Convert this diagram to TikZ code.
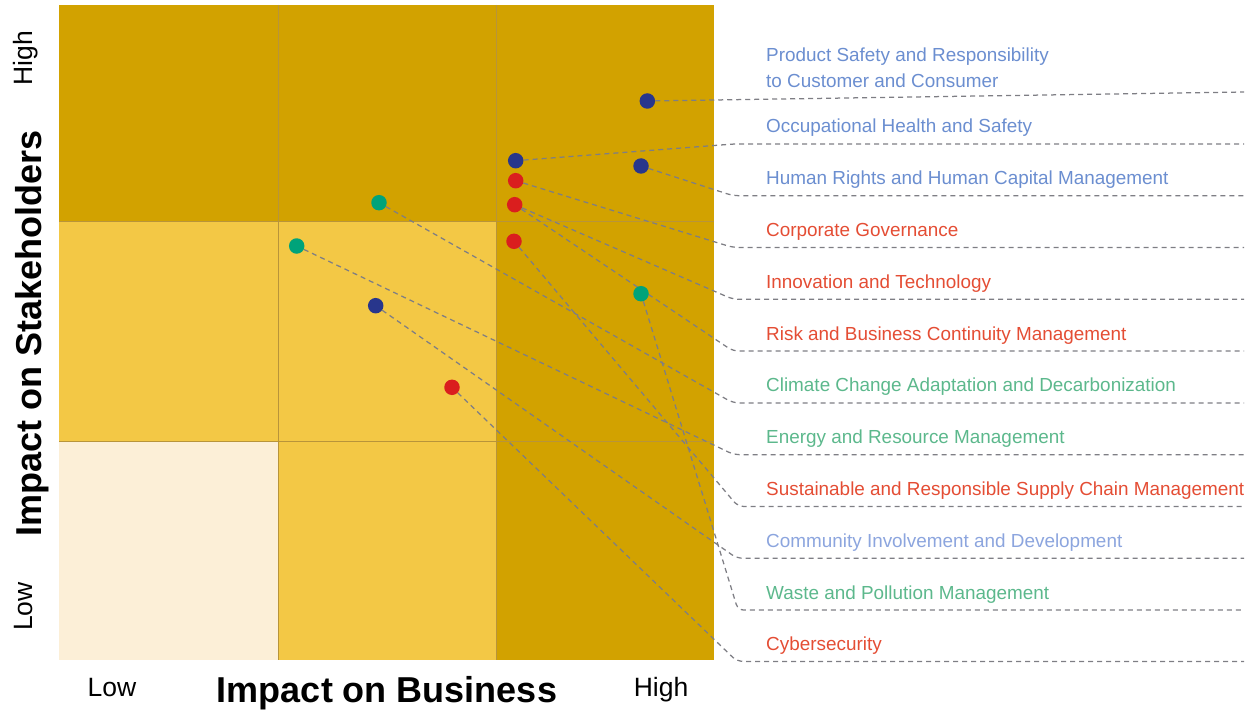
\documentclass[tikz,border=0pt]{standalone}
\usepackage{fontspec}
\setmainfont{Liberation Sans}
\pgfdeclarelayer{bg}
\pgfdeclarelayer{lines}
\pgfsetlayers{bg,lines,main}
\definecolor{cdark}{HTML}{D2A200}
\definecolor{cmid}{HTML}{F3C845}
\definecolor{clight}{HTML}{FCEFD7}
\definecolor{cgrid}{HTML}{B8943A}
\definecolor{dnavy}{HTML}{28368C}
\definecolor{dred}{HTML}{DA1E1E}
\definecolor{dgreen}{HTML}{00A37A}
\definecolor{tblue}{HTML}{6B8ED0}
\definecolor{tlblue}{HTML}{8CA5DE}
\definecolor{tred}{HTML}{E44D34}
\definecolor{tgreen}{HTML}{5CB88C}
\definecolor{cconn}{HTML}{7E7E84}
\tikzset{
  dotbase/.style={circle,inner sep=0pt,minimum size=15.5pt},
  dotB/.style={dotbase,fill=dnavy},
  dotR/.style={dotbase,fill=dred},
  dotG/.style={dotbase,fill=dgreen},
  conn/.style={draw=cconn,line width=1.25pt,dash pattern=on 5pt off 4pt,rounded corners=6pt},
  gridline/.style={draw=cgrid,line width=1pt},
  lbl/.style={anchor=base west,inner sep=0pt,font=\fontsize{18.9}{22}\selectfont},
  axtitle/.style={inner sep=0pt,font=\fontsize{36}{40}\selectfont\bfseries},
  axtick/.style={inner sep=0pt,font=\fontsize{26.5}{30}\selectfont}
}
\begin{document}
\begin{tikzpicture}[x=1pt,y=-1pt]
\useasboundingbox (0,0) rectangle (1258,714);
% cells
\begin{pgfonlayer}{bg}
\fill[cdark] (59,5) rectangle (714,222);
\fill[cmid] (59,222) rectangle (496,441);
\fill[cdark] (496,222) rectangle (714,660);
\fill[clight] (59,441) rectangle (278,660);
\fill[cmid] (278,441) rectangle (496,660);
\draw[gridline] (278,5) -- (278,660);
\draw[gridline] (496,5) -- (496,660);
\draw[gridline] (59,222) -- (714,222);
\draw[gridline] (59,441) -- (714,441);
\end{pgfonlayer}
% dots
\node[dotB] (dps) at (647.3,101) {};
\node[dotB] (doh) at (515.7,160.7) {};
\node[dotB] (dhr) at (641,166) {};
\node[dotR] (dcg) at (515.7,180.7) {};
\node[dotR] (dit) at (514.7,204.7) {};
\node[dotR] (dsc) at (514,241.3) {};
\node[dotG] (dwp) at (641,293.7) {};
\node[dotG] (dcc) at (379,202.7) {};
\node[dotG] (der) at (296.7,246) {};
\node[dotB] (dci) at (375.7,305.7) {};
\node[dotR] (dcy) at (452,387.3) {};
% bends and ends
\coordinate (eps) at (1244,92);
\coordinate (boh) at (735,143.9);   \coordinate (eoh) at (1244,143.9);
\coordinate (bhr) at (733,195.7);   \coordinate (ehr) at (1244,195.7);
\coordinate (bcg) at (733,247.5);   \coordinate (ecg) at (1244,247.5);
\coordinate (bit) at (733,299.3);   \coordinate (eit) at (1244,299.3);
\coordinate (brb) at (733,351.1);   \coordinate (erb) at (1244,351.1);
\coordinate (bcc) at (733,402.9);   \coordinate (ecc) at (1244,402.9);
\coordinate (ber) at (734,454.7);   \coordinate (eer) at (1244,454.7);
\coordinate (bsc) at (738,506.5);   \coordinate (esc) at (1244,506.5);
\coordinate (bci) at (737,558.3);   \coordinate (eci) at (1244,558.3);
\coordinate (bwp) at (738,610.1);   \coordinate (ewp) at (1244,610.1);
\coordinate (bcy) at (737,661.4);   \coordinate (ecy) at (1244,661.4);
\begin{pgfonlayer}{lines}
\draw[conn] (dps) -- (eps);
\draw[conn] (doh) -- (boh) -- (eoh);
\draw[conn] (dhr) -- (bhr) -- (ehr);
\draw[conn] (dcg) -- (bcg) -- (ecg);
\draw[conn] (dit) -- (bit) -- (eit);
\draw[conn] (dit) -- (brb) -- (erb);
\draw[conn] (dcc) -- (bcc) -- (ecc);
\draw[conn] (der) -- (ber) -- (eer);
\draw[conn] (dsc) -- (bsc) -- (esc);
\draw[conn] (dci) -- (bci) -- (eci);
\draw[conn] (dwp) -- (bwp) -- (ewp);
\draw[conn] (dcy) -- (bcy) -- (ecy);
\end{pgfonlayer}
% labels
\node[lbl,text=tblue] (lps1) at (766,61.7) {Product Safety and Responsibility};
\node[lbl,text=tblue] (lps2) at (766,88) {to Customer and Consumer};
\node[lbl,text=tblue] (loh) at (766,132.9) {Occupational Health and Safety};
\node[lbl,text=tblue] (lhr) at (766,184.7) {Human Rights and Human Capital Management};
\node[lbl,text=tred] (lcg) at (766,236.5) {Corporate Governance};
\node[lbl,text=tred] (lit) at (766,288.3) {Innovation and Technology};
\node[lbl,text=tred] (lrb) at (766,340.1) {Risk and Business Continuity Management};
\node[lbl,text=tgreen] (lcc) at (766,391.9) {Climate Change Adaptation and Decarbonization};
\node[lbl,text=tgreen] (ler) at (766,443.7) {Energy and Resource Management};
\node[lbl,text=tred] (lsc) at (766,495.5) {Sustainable and Responsible Supply Chain Management};
\node[lbl,text=tlblue] (lci) at (766,547.3) {Community Involvement and Development};
\node[lbl,text=tgreen] (lwp) at (766,599.1) {Waste and Pollution Management};
\node[lbl,text=tred] (lcy) at (766,650.9) {Cybersecurity};
% axes
\node[axtitle,anchor=base] (xt) at (387,702.7) {Impact on Business};
\node[axtitle,anchor=base,rotate=90] (yt) at (41.5,333.5) {Impact on Stakeholders};
\node[axtick,anchor=base] (xl) at (112,696) {Low};
\node[axtick,anchor=base] (xh) at (661,696) {High};
\node[axtick,anchor=base,rotate=90] (yl) at (32.5,606.5) {Low};
\node[axtick,anchor=base,rotate=90] (yh) at (32.5,58.5) {High};
\end{tikzpicture}
\end{document}
